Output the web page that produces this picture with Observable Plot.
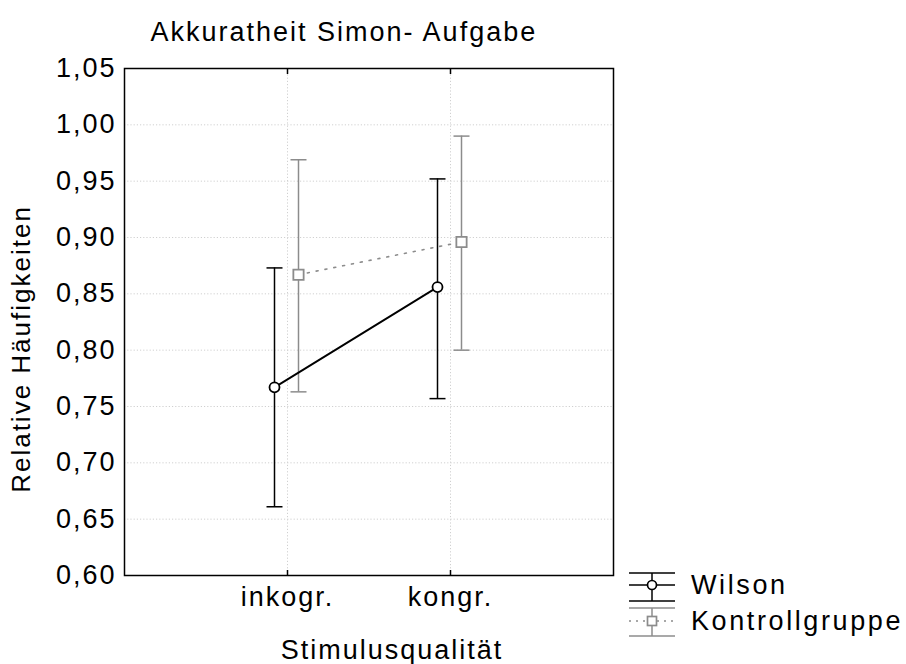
<!DOCTYPE html>
<html>
<head>
<meta charset="utf-8">
<script src="https://cdn.jsdelivr.net/npm/d3@7"></script>
<script src="https://cdn.jsdelivr.net/npm/@observablehq/plot@0.6"></script>
<style>
  body { margin: 0; background: #fff; }
</style>
</head>
<body>
<div id="chart"></div>
<script>
// Akkuratheit in der Simon-Aufgabe: Mittelwerte mit Konfidenzintervallen
const categories = ["inkogr.", "kongr."];
const groups = ["Wilson", "Kontrollgruppe"];

const wilsonMean = [0.767, 0.856];
const wilsonLow = [0.661, 0.757];
const wilsonHigh = [0.873, 0.952];

const kontrollMean = [0.867, 0.896];
const kontrollLow = [0.763, 0.800];
const kontrollHigh = [0.969, 0.990];

const yTicks = [0.60, 0.65, 0.70, 0.75, 0.80, 0.85, 0.90, 0.95, 1.00, 1.05];

const title = "Akkuratheit Simon- Aufgabe";
const xTitle = "Stimulusqualität";
const yTitle = "Relative Häufigkeiten";

const catPos = categories.map((c, i) => i + 1);
const toRows = (mean, low, high) =>
  categories.map((c, i) => ({ cat: c, pos: i + 1, mean: mean[i], low: low[i], high: high[i] }));
const wilson = toRows(wilsonMean, wilsonLow, wilsonHigh);
const kontroll = toRows(kontrollMean, kontrollLow, kontrollHigh);

const fmt = d => d3.format(".2f")(d).replace(".", ",");

// horizontal cap for the whiskers
const capSymbol = {
  draw(ctx, size) {
    const r = Math.sqrt(size / Math.PI);
    ctx.moveTo(-r, 0);
    ctx.lineTo(r, 0);
  }
};

const W = 906, H = 664;
const BLACK = "#000";
const GREY = "#8c8c8c";
const dxW = -13, dxK = 11;
const font = "'Liberation Sans', Arial, sans-serif";

function series(rows, color, dx, symbol, dash, lineWidth) {
  return [
    Plot.ruleX(rows, { x: "pos", y1: "low", y2: "high", dx, stroke: color, strokeWidth: 1.5 }),
    Plot.dot(rows, { x: "pos", y: "high", dx, symbol: capSymbol, r: 8, fill: "none", stroke: color, strokeWidth: 1.5 }),
    Plot.dot(rows, { x: "pos", y: "low", dx, symbol: capSymbol, r: 8, fill: "none", stroke: color, strokeWidth: 1.5 }),
    Plot.line(rows, { x: "pos", y: "mean", dx, stroke: color, strokeWidth: lineWidth, strokeDasharray: dash }),
    Plot.dot(rows, { x: "pos", y: "mean", dx, symbol, r: symbol === "square" ? 5.8 : 5, fill: "white", stroke: color, strokeWidth: 1.8 })
  ];
}

const plot = Plot.plot({
  width: W,
  height: H,
  marginLeft: 124,
  marginRight: W - 613,
  marginTop: 68,
  marginBottom: H - 575,
  style: { fontFamily: font, letterSpacing: "2px", color: "#000", background: "#fff" },
  x: { domain: [0, 3], axis: null },
  y: { domain: [0.60, 1.05], axis: null },
  marks: [
    Plot.gridY(yTicks.slice(1, -1), { stroke: "#d0d0d0", strokeOpacity: 1, strokeDasharray: "1.2,2" }),
    Plot.gridX(catPos, { stroke: "#d0d0d0", strokeOpacity: 1, strokeDasharray: "1.2,2" }),
    Plot.axisY(yTicks, { tickSize: 0, tickPadding: 8, tickFormat: fmt, fontSize: 27, label: null }),
    Plot.axisX(catPos, { anchor: "bottom", tickSize: -5, tickFormat: () => "", label: null, strokeWidth: 1.5 }),
    Plot.axisX(catPos, { anchor: "top", tickSize: -5, tickFormat: () => "", label: null, strokeWidth: 1.5 }),
    Plot.axisX(catPos, { anchor: "bottom", tickSize: 0, tickPadding: 11, tickFormat: i => categories[i - 1], fontSize: 27, label: null }),
    ...series(kontroll, GREY, dxK, "square", "2,7", 1.6),
    ...series(wilson, BLACK, dxW, "circle", null, 1.9),
    Plot.frame({ stroke: BLACK, strokeWidth: 1.5 }),
    Plot.text([title], { frameAnchor: "top-left", textAnchor: "start", dx: 26, dy: -28, fontSize: 27, lineAnchor: "bottom", letterSpacing: "2.6px" }),
    Plot.text([yTitle], { frameAnchor: "left", textAnchor: "middle", dx: -103, dy: 27, rotate: -90, fontSize: 26 }),
    Plot.text([xTitle], { frameAnchor: "bottom", textAnchor: "middle", dx: 23, dy: 83, fontSize: 27, lineAnchor: "bottom", letterSpacing: "4.5px" })
  ]
});

document.getElementById("chart").appendChild(plot);

// legend in the lower right corner
const svg = d3.select(plot);
const lg = svg.append("g")
  .attr("font-family", font)
  .attr("font-size", 27)
  .attr("letter-spacing", "2.6px")
  .attr("text-anchor", "start");
const legendItems = [
  { name: groups[0], color: BLACK, top: 573, mid: 585, bot: 601, symbol: "circle", dash: null },
  { name: groups[1], color: GREY, top: 608, mid: 621, bot: 636, symbol: "square", dash: "2,5" }
];
const lx0 = 629, lx1 = 675, lxc = 652;
legendItems.forEach(it => {
  const g = lg.append("g").attr("stroke", it.color).attr("fill", "none").attr("stroke-width", 1.5);
  g.append("line").attr("x1", lx0).attr("x2", lx1).attr("y1", it.top).attr("y2", it.top);
  g.append("line").attr("x1", lx0).attr("x2", lx1).attr("y1", it.bot).attr("y2", it.bot);
  g.append("line").attr("x1", lxc).attr("x2", lxc).attr("y1", it.top).attr("y2", it.bot);
  g.append("line").attr("x1", lx0).attr("x2", lx1).attr("y1", it.mid).attr("y2", it.mid)
    .attr("stroke-dasharray", it.dash);
  if (it.symbol === "circle") {
    g.append("circle").attr("cx", lxc).attr("cy", it.mid).attr("r", 4.5).attr("fill", "white").attr("stroke-width", 1.7);
  } else {
    g.append("rect").attr("x", lxc - 4.5).attr("y", it.mid - 4.5).attr("width", 9).attr("height", 9)
      .attr("fill", "white").attr("stroke-width", 1.7);
  }
  lg.append("text").attr("x", 691).attr("y", it.mid).attr("dy", "0.35em").attr("fill", "#000").text(it.name);
});
</script>
</body>
</html>
